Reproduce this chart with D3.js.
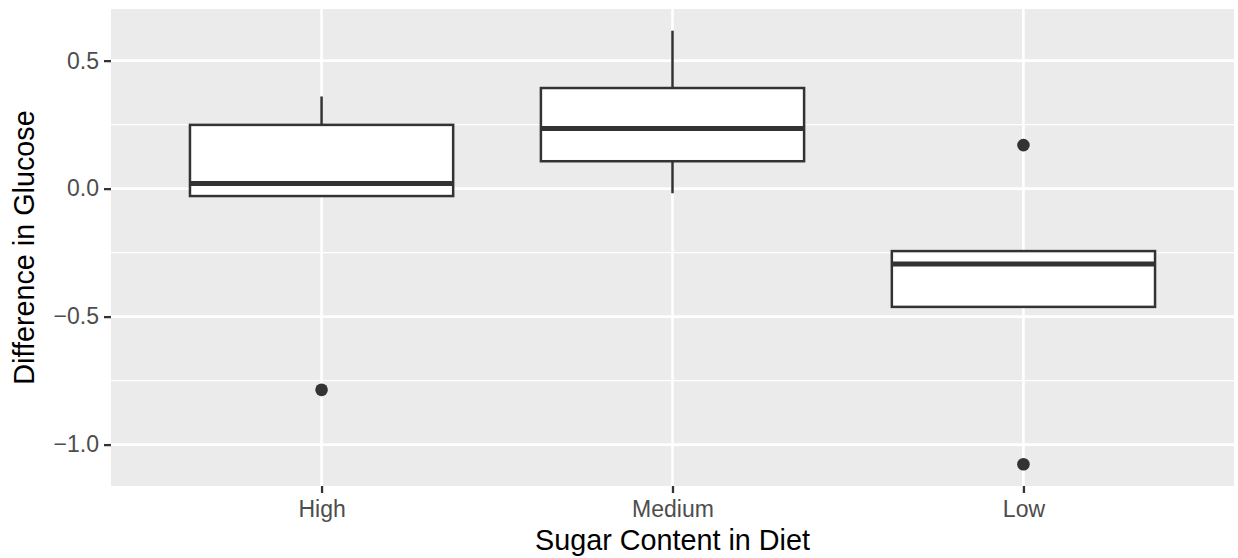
<!DOCTYPE html>
<html>
<head>
<meta charset="utf-8">
<script src="https://cdn.jsdelivr.net/npm/d3@7"></script>
<style>
  html, body { margin: 0; padding: 0; background: #ffffff; }
  svg { display: block; font-family: "Liberation Sans", Arial, Helvetica, sans-serif; }
</style>
</head>
<body>
<svg id="chart" width="1238" height="558"></svg>
<script>
// Diet groups along the x axis
const categories = ["High", "Medium", "Low"];

// Box summaries per group: whisker ends, quartiles and median
const whiskerLow  = [-0.029, -0.018, -0.462];
const q1          = [-0.029,  0.107, -0.462];
const median      = [ 0.020,  0.235, -0.294];
const q3          = [ 0.249,  0.393, -0.244];
const whiskerHigh = [ 0.360,  0.617, -0.244];

// Points beyond the whiskers
const outlierGroup = ["High", "Low", "Low"];
const outlierValue = [-0.786, 0.170, -1.077];

// Axis ticks
const yMajorTicks = [-1.0, -0.5, 0.0, 0.5];
const yMinorTicks = [-0.75, -0.25, 0.25];
const yTickLabels = ["\u22121.0", "\u22120.5", "0.0", "0.5"];

const xTitle = "Sugar Content in Diet";
const yTitle = "Difference in Glucose";

// ---- layout ----
const panel = { left: 111, right: 1234, top: 9, bottom: 486 };

const svg = d3.select("#chart");

// Continuous y range padded by 5% each side of the data
const allVals = whiskerLow.concat(whiskerHigh, outlierValue);
const lo = d3.min(allVals), hi = d3.max(allVals);
const pad = (hi - lo) * 0.05;
const y = d3.scaleLinear().domain([lo - pad, hi + pad]).range([panel.bottom, panel.top]);

// Discrete x: positions 1..n with 0.6 padding at each end
const xPos = d3.scaleLinear().domain([0.4, categories.length + 0.6]).range([panel.left, panel.right]);
const x = c => xPos(categories.indexOf(c) + 1);
const boxHalf = (xPos(1.375) - xPos(1));

// Panel background
svg.append("rect")
  .attr("x", panel.left).attr("y", panel.top)
  .attr("width", panel.right - panel.left).attr("height", panel.bottom - panel.top)
  .attr("fill", "#EBEBEB");

// Grid lines
const grid = svg.append("g");
grid.selectAll("line.minor").data(yMinorTicks).join("line")
  .attr("x1", panel.left).attr("x2", panel.right)
  .attr("y1", d => y(d)).attr("y2", d => y(d))
  .attr("stroke", "#ffffff").attr("stroke-width", 1.3);
grid.selectAll("line.major").data(yMajorTicks).join("line")
  .attr("x1", panel.left).attr("x2", panel.right)
  .attr("y1", d => y(d)).attr("y2", d => y(d))
  .attr("stroke", "#ffffff").attr("stroke-width", 2.6);
grid.selectAll("line.vmajor").data(categories).join("line")
  .attr("x1", d => x(d)).attr("x2", d => x(d))
  .attr("y1", panel.top).attr("y2", panel.bottom)
  .attr("stroke", "#ffffff").attr("stroke-width", 2.6);

// Boxplots
const ink = "#333333";
const boxes = svg.append("g");
categories.forEach((c, i) => {
  const cx = x(c);
  const g = boxes.append("g");
  // whiskers
  g.append("line").attr("x1", cx).attr("x2", cx)
    .attr("y1", y(q3[i])).attr("y2", y(whiskerHigh[i]))
    .attr("stroke", ink).attr("stroke-width", 2.5);
  g.append("line").attr("x1", cx).attr("x2", cx)
    .attr("y1", y(q1[i])).attr("y2", y(whiskerLow[i]))
    .attr("stroke", ink).attr("stroke-width", 2.5);
  // box
  g.append("rect")
    .attr("x", cx - boxHalf).attr("width", 2 * boxHalf)
    .attr("y", y(q3[i])).attr("height", y(q1[i]) - y(q3[i]))
    .attr("fill", "#ffffff").attr("stroke", ink).attr("stroke-width", 2.5);
  // median
  g.append("line")
    .attr("x1", cx - boxHalf).attr("x2", cx + boxHalf)
    .attr("y1", y(median[i])).attr("y2", y(median[i]))
    .attr("stroke", ink).attr("stroke-width", 5);
});

// Outliers
svg.append("g").selectAll("circle").data(outlierValue).join("circle")
  .attr("cx", (d, i) => x(outlierGroup[i]))
  .attr("cy", d => y(d))
  .attr("r", 6.3)
  .attr("fill", ink);

// Y axis
const yAxis = d3.axisLeft(y)
  .tickValues(yMajorTicks)
  .tickFormat((d, i) => yTickLabels[i])
  .tickSize(7)
  .tickPadding(5);
const yg = svg.append("g").attr("transform", `translate(${panel.left},0)`).call(yAxis);
yg.select(".domain").remove();
yg.selectAll(".tick line").attr("stroke", ink).attr("stroke-width", 2.3);
yg.selectAll(".tick text")
  .attr("fill", "#4D4D4D")
  .style("font-size", "23px")
  .style("font-family", "'Liberation Sans', Arial, Helvetica, sans-serif");

// X axis
const xBand = d3.scalePoint().domain(categories)
  .range([x(categories[0]), x(categories[categories.length - 1])]);
const xAxis = d3.axisBottom(xBand).tickSize(7).tickPadding(5);
const xg = svg.append("g").attr("transform", `translate(0,${panel.bottom})`).call(xAxis);
xg.select(".domain").remove();
xg.selectAll(".tick line").attr("stroke", ink).attr("stroke-width", 2.3);
xg.selectAll(".tick text")
  .attr("fill", "#4D4D4D")
  .attr("dy", null)
  .attr("y", 30.5)
  .style("font-size", "23px")
  .style("font-family", "'Liberation Sans', Arial, Helvetica, sans-serif");

// Axis titles
svg.append("text")
  .attr("x", (panel.left + panel.right) / 2)
  .attr("y", 550)
  .attr("text-anchor", "middle")
  .attr("fill", "#000000")
  .style("font-size", "28.75px")
  .text(xTitle);

svg.append("text")
  .attr("transform", `translate(34,${(panel.top + panel.bottom) / 2}) rotate(-90)`)
  .attr("text-anchor", "middle")
  .attr("fill", "#000000")
  .style("font-size", "28.75px")
  .text(yTitle);
</script>
</body>
</html>
